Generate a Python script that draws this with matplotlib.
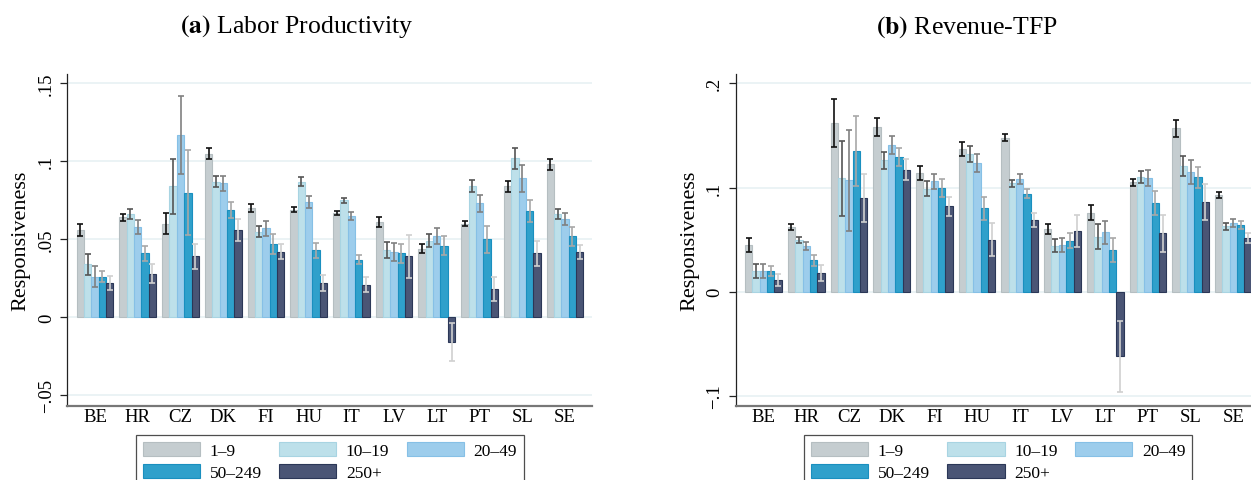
import numpy as np
import matplotlib
matplotlib.use("Agg")
from matplotlib import pyplot as plt
from matplotlib.patches import Patch

# ------------------------------------------------------------
# Data
# ------------------------------------------------------------
countries = ["BE", "HR", "CZ", "DK", "FI", "HU", "IT", "LV", "LT", "PT", "SL", "SE"]
size_classes = ["1\u20139", "10\u201319", "20\u201349", "50\u2013249", "250+"]

# (a) Labor productivity: one list per size class, one value per country
lp_values = [
    [0.056, 0.064, 0.060, 0.105, 0.070, 0.069, 0.067, 0.061, 0.044, 0.060, 0.084, 0.098],
    [0.034, 0.066, 0.084, 0.087, 0.055, 0.087, 0.075, 0.043, 0.049, 0.084, 0.102, 0.066],
    [0.026, 0.058, 0.117, 0.086, 0.057, 0.074, 0.065, 0.042, 0.052, 0.073, 0.089, 0.063],
    [0.026, 0.041, 0.080, 0.069, 0.047, 0.043, 0.037, 0.041, 0.046, 0.050, 0.068, 0.052],
    [0.022, 0.028, 0.039, 0.056, 0.042, 0.022, 0.021, 0.039, -0.016, 0.018, 0.041, 0.042],
]
lp_errors = [
    [0.0036, 0.0024, 0.0068, 0.0035, 0.0027, 0.0014, 0.0011, 0.0030, 0.0029, 0.0015, 0.0035, 0.0034],
    [0.0067, 0.0032, 0.0178, 0.0036, 0.0038, 0.0027, 0.0016, 0.0050, 0.0041, 0.0038, 0.0066, 0.0032],
    [0.0066, 0.0043, 0.0252, 0.0048, 0.0049, 0.0037, 0.0028, 0.0059, 0.0052, 0.0052, 0.0085, 0.0038],
    [0.0036, 0.0048, 0.0272, 0.0051, 0.0065, 0.0049, 0.0028, 0.0061, 0.0062, 0.0088, 0.0069, 0.0061],
    [0.0042, 0.0062, 0.0078, 0.0072, 0.0049, 0.0049, 0.0046, 0.0137, 0.0122, 0.0076, 0.0078, 0.0046],
]

# (b) Revenue-TFP
tfp_values = [
    [0.045, 0.062, 0.162, 0.158, 0.114, 0.137, 0.148, 0.060, 0.076, 0.105, 0.157, 0.093],
    [0.020, 0.050, 0.109, 0.126, 0.099, 0.132, 0.104, 0.044, 0.053, 0.110, 0.121, 0.063],
    [0.020, 0.044, 0.107, 0.141, 0.106, 0.124, 0.108, 0.045, 0.057, 0.109, 0.115, 0.066],
    [0.020, 0.030, 0.135, 0.129, 0.100, 0.080, 0.094, 0.049, 0.040, 0.085, 0.110, 0.064],
    [0.011, 0.018, 0.090, 0.117, 0.082, 0.050, 0.069, 0.058, -0.062, 0.056, 0.086, 0.052],
]
tfp_errors = [
    [0.0066, 0.0026, 0.0232, 0.0083, 0.0067, 0.0067, 0.0032, 0.0046, 0.0072, 0.0035, 0.0083, 0.0030],
    [0.0064, 0.0030, 0.0360, 0.0085, 0.0072, 0.0075, 0.0035, 0.0062, 0.0118, 0.0059, 0.0096, 0.0034],
    [0.0066, 0.0042, 0.0485, 0.0085, 0.0072, 0.0086, 0.0050, 0.0069, 0.0110, 0.0074, 0.0114, 0.0034],
    [0.0046, 0.0050, 0.0336, 0.0086, 0.0086, 0.0109, 0.0045, 0.0075, 0.0112, 0.0118, 0.0102, 0.0040],
    [0.0056, 0.0077, 0.0226, 0.0102, 0.0090, 0.0160, 0.0067, 0.0152, 0.0338, 0.0181, 0.0176, 0.0048],
]

# ------------------------------------------------------------
# Style
# ------------------------------------------------------------
face_colors = ["#c5cdd0", "#bde0ea", "#9dcdec", "#2fa0cb", "#4a5575"]
edge_colors = ["#b5bec1", "#a8d4e2", "#86c0e6", "#1a8fbf", "#2b3757"]
err_colors = ["#111111", "#555555", "#808080", "#a8a8a8", "#d0d0d0"]

plt.rcParams['font.family'] = ['Liberation Serif', 'DejaVu Serif']
plt.rcParams['mathtext.fontset'] = 'stix'

fig = plt.figure(figsize=(12.51, 4.81), dpi=100)

W, H = 1251, 481


def ax_rect(x0, x1, ytop, ybot):
    return [x0 / W, 1 - ybot / H, (x1 - x0) / W, (ybot - ytop) / H]


# ------------------------------------------------------------
# Panel drawing
# ------------------------------------------------------------
def draw_panel(ax, values, errors, ylim, ticks, ticklabels):
    n = len(countries)
    x = np.arange(n)
    group_w = 0.86
    bw = group_w / len(size_classes)
    for k in range(len(size_classes)):
        pos = x - group_w / 2 + bw * (k + 0.5)
        ax.bar(pos, values[k], width=bw, color=face_colors[k],
               edgecolor=edge_colors[k], linewidth=0.8, zorder=2)
        ax.errorbar(pos, values[k], yerr=errors[k], fmt='none',
                    ecolor=err_colors[k], elinewidth=1.2, capsize=2.2,
                    capthick=1.2, zorder=3)

    ax.set_xlim(-0.65, n - 1 + 0.64)
    ax.set_ylim(*ylim)
    ax.set_xticks(x)
    ax.set_xticklabels(countries, fontsize=13.5)
    ax.tick_params(axis='x', length=0, pad=2)
    ax.set_yticks(ticks)
    ax.set_yticklabels(ticklabels, fontsize=13.5, rotation=90, va='center')
    ax.tick_params(axis='y', length=5, width=0.9, color='#222222', pad=4)
    ax.yaxis.grid(True, color='#e6f0f2', linewidth=1.1, zorder=0)
    ax.set_axisbelow(True)
    ax.set_ylabel("Responsiveness", fontsize=16, labelpad=5)

    for side in ['top', 'right']:
        ax.spines[side].set_visible(False)
    ax.spines['left'].set_color('#222222')
    ax.spines['left'].set_linewidth(0.9)
    ax.spines['bottom'].set_color('#777777')
    ax.spines['bottom'].set_linewidth(1.6)

    # legend: reorder so rows read 1-9, 10-19, 20-49 / 50-249, 250+
    handles = [Patch(facecolor=face_colors[k], edgecolor=edge_colors[k], linewidth=0.8)
               for k in range(len(size_classes))]
    order = [0, 3, 1, 4, 2]
    leg = ax.legend([handles[i] for i in order], [size_classes[i] for i in order],
                    ncol=3, loc='upper center', bbox_to_anchor=(0.5, -0.088),
                    borderaxespad=0, fontsize=12.5, frameon=True, fancybox=False,
                    handlelength=3.3, handleheight=0.85, handletextpad=0.55,
                    columnspacing=1.0, borderpad=0.4, labelspacing=0.3)
    leg.get_frame().set_edgecolor('#222222')
    leg.get_frame().set_linewidth(0.9)


ax1 = fig.add_axes(ax_rect(67.3, 592.3, 75, 406.7))
draw_panel(ax1, lp_values, lp_errors, (-0.0567, 0.156),
           [-0.05, 0, 0.05, 0.1, 0.15], ["\u2212.05", "0", ".05", ".1", ".15"])

ax2 = fig.add_axes(ax_rect(735.7, 1260.7, 75, 406.7))
draw_panel(ax2, tfp_values, tfp_errors, (-0.1094, 0.209),
           [-0.1, 0, 0.1, 0.2], ["\u2212.1", "0", ".1", ".2"])

# panel titles
fig.text(297 / W, 1 - 27 / H, r"$\mathbf{(a)}$ Labor Productivity", fontsize=18.5,
         ha='center', va='center')
fig.text(967 / W, 1 - 27 / H, r"$\mathbf{(b)}$ Revenue-TFP", fontsize=18.5,
         ha='center', va='center')

fig.savefig("out.png", dpi=100)
